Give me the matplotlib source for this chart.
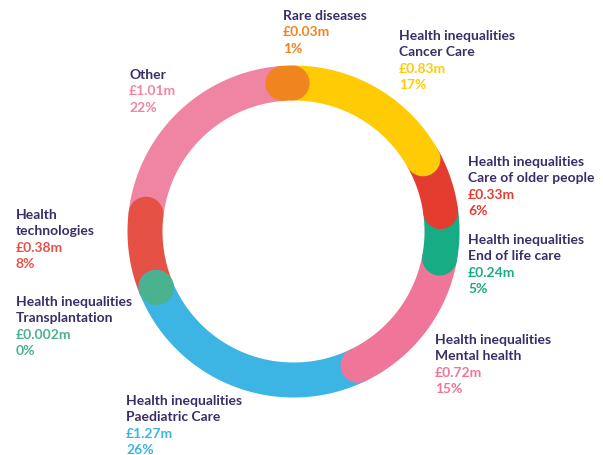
import numpy as np
import matplotlib
matplotlib.use("Agg")
import matplotlib.pyplot as plt

# funding split, listed clockwise from the top of the ring
names = ["Rare diseases", "Health inequalities\nCancer Care",
         "Health inequalities\nCare of older people",
         "Health inequalities\nEnd of life care",
         "Health inequalities\nMental health",
         "Health inequalities\nPaediatric Care",
         "Health inequalities\nTransplantation",
         "Health\ntechnologies", "Other"]
amounts = ["£0.03m", "£0.83m", "£0.33m", "£0.24m", "£0.72m",
           "£1.27m", "£0.002m", "£0.38m", "£1.01m"]
percents = [1, 17, 6, 5, 15, 26, 0, 8, 22]
colours = ["#F0841E", "#FFCB05", "#E43D30", "#17AC84", "#EF7599",
           "#3CB4E4", "#4AB28F", "#E65146", "#EF85A2"]

# top-left corner of each label block, in pixels
label_pos = [(283, 16), (399, 36), (468, 162), (468, 240), (435, 340),
             (126, 401), (16, 302), (16, 215), (129, 75)]

W, H = 603, 455
DARK = "#3A2D68"
plt.rcParams['font.family'] = ['Lato', 'DejaVu Sans']

fig = plt.figure(figsize=(W / 100, H / 100), dpi=100)

cx, cy, half = 293.5, 231.5, 170
ax = fig.add_axes([(cx - half) / W, (H - cy - half) / H, 2 * half / W, 2 * half / H],
                  projection='polar')
ax.set_theta_zero_location('N')
ax.set_theta_direction(-1)
ax.set_ylim(0, half)
ax.axis('off')

r_mid = 148.5
ring_pt = 35 * 72 / 100  # ring thickness in points

start = np.deg2rad(-4.1)
ends = start + np.cumsum(np.array(percents) / 100 * 2 * np.pi)
begins = ends - np.array(percents) / 100 * 2 * np.pi

n = len(percents)
for i in range(n):
    z = n - i
    if percents[i] <= 1:
        z = 20
    if percents[i] == 0:
        ax.plot([begins[i]], [r_mid], 'o', ms=ring_pt, color=colours[i],
                mec='none', zorder=z)
    else:
        th = np.linspace(begins[i], ends[i], 100)
        ax.plot(th, np.full_like(th, r_mid), color=colours[i], lw=ring_pt,
                solid_capstyle='round', zorder=z)

step = 16.4
fs = 10
for i in range(n):
    x, y = label_pos[i]
    lines = names[i].split("\n")
    k = 0
    for ln in lines:
        fig.text(x / W, 1 - (y + k * step) / H, ln, color=DARK, fontsize=fs,
                 fontweight='bold', va='center', ha='left')
        k += 1
    fig.text(x / W, 1 - (y + k * step) / H, amounts[i], color=colours[i],
             fontsize=fs, fontweight='bold', va='center', ha='left')
    k += 1
    fig.text(x / W, 1 - (y + k * step) / H, f"{percents[i]}%", color=colours[i],
             fontsize=fs, fontweight='bold', va='center', ha='left')

fig.savefig("out.png", dpi=100)
